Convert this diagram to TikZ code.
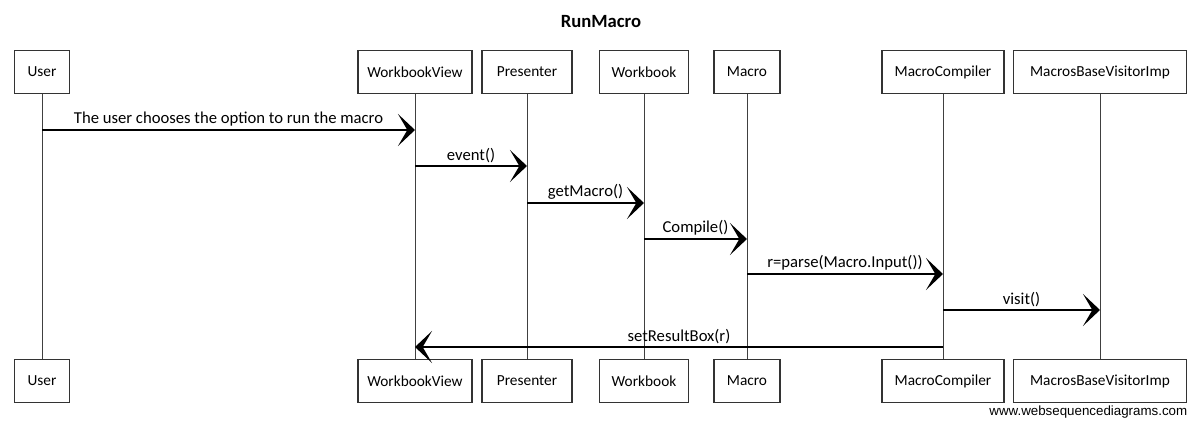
\documentclass[tikz,border=0pt]{standalone}
\usepackage{fontspec}
\setmainfont{Carlito}
\newfontfamily\creditfont{Liberation Sans}
\usetikzlibrary{arrows.meta}

\tikzset{
  actor/.style={draw=black!80, line width=0.9pt, minimum height=32pt, inner sep=2pt, font=\fontsize{11.5}{13}\selectfont},
  life/.style={draw=black!75, line width=0.7pt},
  msg/.style={line width=1pt, -{Stealth[length=12.75pt,width=24pt,inset=7pt]}},
  lbl/.style={above, inner sep=2pt, font=\fontsize{12.5}{14}\selectfont}
}

\begin{document}
\begin{tikzpicture}[x=0.75pt,y=-0.75pt]
    \useasboundingbox (0,0) rectangle (1200,427);
    \node [font=\bfseries\fontsize{14}{16}\selectfont] (title) at (601,22) {RunMacro};

    \node [actor, minimum width=41pt] (user) at (42,72) {User};
    \node [actor, minimum width=85.5pt] (view) at (415,72) {WorkbookView};
    \node [actor, minimum width=67.5pt] (pres) at (527,72) {Presenter};
    \node [actor, minimum width=67pt] (wbook) at (644,72) {Workbook};
    \node [actor, minimum width=49.5pt] (macro) at (747,72) {Macro};
    \node [actor, minimum width=91.5pt] (comp) at (943,72) {MacroCompiler};
    \node [actor, minimum width=130pt] (visitor) at (1100,72) {MacrosBaseVisitorImp};

    \node [actor, minimum width=41pt] (userB) at (42,381) {User};
    \node [actor, minimum width=85.5pt] (viewB) at (415,381) {WorkbookView};
    \node [actor, minimum width=67.5pt] (presB) at (527,381) {Presenter};
    \node [actor, minimum width=67pt] (wbookB) at (644,381) {Workbook};
    \node [actor, minimum width=49.5pt] (macroB) at (747,381) {Macro};
    \node [actor, minimum width=91.5pt] (compB) at (943,381) {MacroCompiler};
    \node [actor, minimum width=130pt] (visitorB) at (1100,381) {MacrosBaseVisitorImp};

    \draw [life] (user) to (userB);
    \draw [life] (view) to (viewB);
    \draw [life] (pres) to (presB);
    \draw [life] (wbook) to (wbookB);
    \draw [life] (macro) to (macroB);
    \draw [life] (comp) to (compB);
    \draw [life] (visitor) to (visitorB);

    \draw [msg] (user |- 0,130) -- node [lbl] {The user chooses the option to run the macro} (view |- 0,130);
    \draw [msg] (view |- 0,166) -- node [lbl] {event()} (pres |- 0,166);
    \draw [msg] (pres |- 0,203) -- node [lbl] {getMacro()} (wbook |- 0,203);
    \draw [msg] (wbook |- 0,239) -- node [lbl] {Compile()} (macro |- 0,239);
    \draw [msg] (macro |- 0,274) -- node [lbl] {r=parse(Macro.Input())} (comp |- 0,274);
    \draw [msg] (comp |- 0,310) -- node [lbl] {visit()} (visitor |- 0,310);
    \draw [msg] (comp |- 0,347) -- node [lbl] {setResultBox(r)} (view |- 0,347);

    \node [font=\creditfont\fontsize{10}{12}\selectfont, anchor=east] (credit) at (1192,412) {www.websequencediagrams.com};
\end{tikzpicture}
\end{document}
